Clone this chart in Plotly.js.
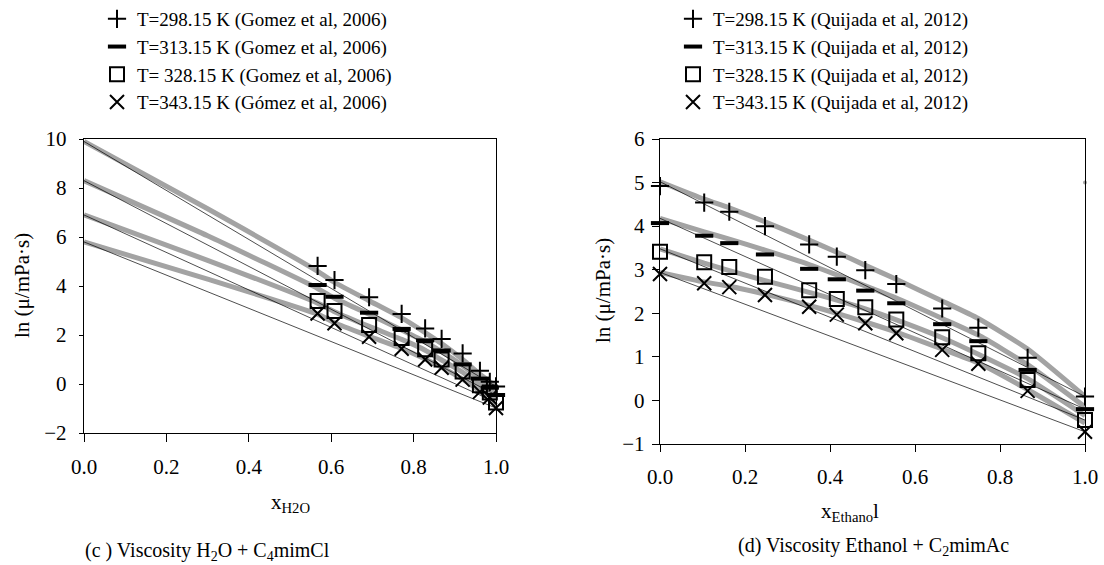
<!DOCTYPE html>
<html>
<head>
<meta charset="utf-8">
<script src="https://cdn.plot.ly/plotly-3.0.1.min.js"></script>
<style>html,body{margin:0;padding:0;background:#fff;}#chart{width:1104px;height:565px;}</style>
</head>
<body>
<div id="chart"></div>
<script>
// ---------- Panel (c): H2O + C4mimCl ----------
const xH2O = [0.567, 0.608, 0.692, 0.771, 0.828, 0.868, 0.919, 0.961, 0.985, 1.0];
const c298 = [4.82, 4.24, 3.54, 2.86, 2.27, 1.84, 1.25, 0.54, 0.09, -0.10];
const c313 = [4.04, 3.56, 2.91, 2.25, 1.78, 1.37, 0.80, 0.22, -0.15, -0.45];
const c328 = [3.39, 2.98, 2.41, 1.88, 1.42, 1.00, 0.51, -0.05, -0.35, -0.75];
const c343 = [2.88, 2.48, 1.93, 1.44, 1.00, 0.66, 0.18, -0.32, -0.55, -0.98];
// model curves (grey)
const xH2OModel = [0, 0.3, 0.567, 0.608, 0.692, 0.771, 0.828, 0.868, 0.919, 0.961, 1.0];
const g298 = [9.9, 7.15, 4.6, 4.15, 3.4, 2.7, 2.1, 1.65, 1.0, 0.4, -0.1];
const g313 = [8.3, 6.05, 3.9, 3.5, 2.85, 2.2, 1.72, 1.32, 0.75, 0.2, -0.4];
const g328 = [6.9, 5.05, 3.3, 2.95, 2.35, 1.82, 1.38, 0.98, 0.48, -0.05, -0.65];
const g343 = [5.8, 4.28, 2.85, 2.5, 1.95, 1.45, 1.02, 0.68, 0.2, -0.3, -0.9];
const legendC = ["T=298.15 K (Gomez et al, 2006)", "T=313.15 K (Gomez et al, 2006)",
                 "T= 328.15 K (Gomez et al, 2006)", "T=343.15 K (Gómez et al, 2006)"];

// ---------- Panel (d): Ethanol + C2mimAc ----------
const xEth = [0, 0.104, 0.163, 0.247, 0.351, 0.416, 0.483, 0.556, 0.664, 0.749, 0.865, 1.0];
const q298 = [4.92, 4.54, 4.33, 4.00, 3.58, 3.30, 2.99, 2.67, 2.11, 1.67, 0.98, 0.09];
const q313 = [4.07, 3.78, 3.61, 3.35, 3.02, 2.78, 2.52, 2.23, 1.75, 1.36, 0.70, -0.20];
const q328 = [3.41, 3.17, 3.06, 2.84, 2.53, 2.33, 2.14, 1.86, 1.45, 1.08, 0.47, -0.45];
const q343 = [2.90, 2.69, 2.60, 2.42, 2.15, 1.97, 1.77, 1.54, 1.16, 0.84, 0.22, -0.72];
const h298 = [5.02, 4.62, 4.42, 4.10, 3.68, 3.40, 3.10, 2.78, 2.28, 1.88, 1.18, 0.09];
const h313 = [4.18, 3.87, 3.70, 3.45, 3.12, 2.88, 2.63, 2.35, 1.88, 1.50, 0.82, -0.15];
const h328 = [3.48, 3.15, 2.98, 2.75, 2.48, 2.30, 2.10, 1.85, 1.44, 1.06, 0.50, -0.35];
const h343 = [2.94, 2.72, 2.62, 2.44, 2.18, 2.00, 1.80, 1.57, 1.18, 0.86, 0.25, -0.52];
const strayX = [1.0];
const strayY = [5.0];
const legendD = ["T=298.15 K (Quijada et al, 2012)", "T=313.15 K (Quijada et al, 2012)",
                 "T=328.15 K (Quijada et al, 2012)", "T=343.15 K (Quijada et al, 2012)"];

const tickVals = [0, 0.2, 0.4, 0.6, 0.8, 1.0];

// ---------- styles ----------
const FONT = "Liberation Serif, Times New Roman, serif";
const GREY = "#a3a3a3";
const symbols = ["cross-thin-open", "line-ew-open", "square-open", "x-thin-open"];
const sizes = [13, 13, 14, 14];
const widths = [2, 4, 2, 2];

const traces = [];
function addPanel(xData, series, xModel, models, names, xa, ya, leg) {
  models.forEach((m) => {
    traces.push({x: xModel, y: m, xaxis: xa, yaxis: ya, mode: "lines",
      line: {color: GREY, width: 5, shape: "spline", smoothing: 0.5}, showlegend: false, hoverinfo: "skip"});
  });
  models.forEach((m, i) => {
    const s = series[i];
    traces.push({x: [xModel[0], xData[xData.length - 1]], y: [m[0], s[s.length - 1]],
      xaxis: xa, yaxis: ya, mode: "lines", line: {color: "#000", width: 0.7},
      showlegend: false, hoverinfo: "skip"});
  });
  series.forEach((s, i) => {
    traces.push({x: xData, y: s, xaxis: xa, yaxis: ya, mode: "markers", name: names[i],
      legend: leg, cliponaxis: false,
      marker: {symbol: symbols[i], size: sizes[i], color: "#000",
               line: {color: "#000", width: widths[i]}}});
  });
}
addPanel(xH2O, [c298, c313, c328, c343], xH2OModel, [g298, g313, g328, g343], legendC, "x", "y", "legend");
addPanel(xEth, [q298, q313, q328, q343], xEth, [h298, h313, h328, h343], legendD, "x2", "y2", "legend2");
traces.push({x: strayX, y: strayY, xaxis: "x2", yaxis: "y2", mode: "markers", cliponaxis: false,
  marker: {color: GREY, size: 4}, showlegend: false, hoverinfo: "skip"});

const W = 1104, H = 565;
const px = (v) => v / W;
const py = (v) => 1 - v / H;

const axisBase = {
  showgrid: false, zeroline: false, showline: true, mirror: true,
  linecolor: "#000", linewidth: 1.3, ticks: "outside", tickcolor: "#000", tickwidth: 1,
  tickfont: {family: FONT, size: 21, color: "#000"}
};

function ann(text, x, y, size, angle) {
  return {text: text, xref: "paper", yref: "paper", x: px(x), y: py(y), xanchor: "center",
    yanchor: "middle", textangle: angle || 0, showarrow: false,
    font: {family: FONT, size: size, color: "#000"}};
}

const layout = {
  width: W, height: H,
  margin: {l: 0, r: 0, t: 0, b: 0},
  paper_bgcolor: "#fff", plot_bgcolor: "#fff",
  font: {family: FONT, color: "#000"},
  xaxis: Object.assign({}, axisBase, {domain: [px(84), px(496)], range: [0, 1], tickvals: tickVals,
    tickformat: ".1f", ticklen: 8, ticklabelstandoff: 6, anchor: "y"}),
  yaxis: Object.assign({}, axisBase, {domain: [py(433), py(139)], range: [-2, 10], dtick: 2,
    ticklen: 4, ticklabelstandoff: 8, anchor: "x"}),
  xaxis2: Object.assign({}, axisBase, {domain: [px(660), px(1085)], range: [0, 1], tickvals: tickVals,
    tickformat: ".1f", ticklen: 7, ticklabelstandoff: 6, anchor: "y2"}),
  yaxis2: Object.assign({}, axisBase, {domain: [py(444), py(139)], range: [-1, 6], dtick: 1,
    ticklen: 7, ticklabelstandoff: 3, anchor: "x2"}),
  legend: {x: px(97), y: 1, xanchor: "left", yanchor: "top", bgcolor: "rgba(0,0,0,0)",
    font: {family: FONT, size: 19, color: "#000"}, tracegroupgap: 0, itemwidth: 30},
  legend2: {x: px(673), y: 1, xanchor: "left", yanchor: "top", bgcolor: "rgba(0,0,0,0)",
    font: {family: FONT, size: 19, color: "#000"}, tracegroupgap: 0, itemwidth: 30},
  annotations: [
    ann("ln (μ/mPa·s)", 22, 286, 21, -90),
    ann("ln (μ/mPa·s)", 603, 291, 21, -90),
    ann("x<sub>H2O</sub>", 290, 503, 21),
    ann("x<sub>Ethano</sub>l", 850, 512, 21),
    ann("(c ) Viscosity H<sub>2</sub>O + C<sub>4</sub>mimCl", 207, 551, 20),
    ann("(d) Viscosity Ethanol + C<sub>2</sub>mimAc", 873, 546, 20)
  ]
};

Plotly.newPlot("chart", traces, layout, {staticPlot: true, displayModeBar: false});
</script>
</body>
</html>
